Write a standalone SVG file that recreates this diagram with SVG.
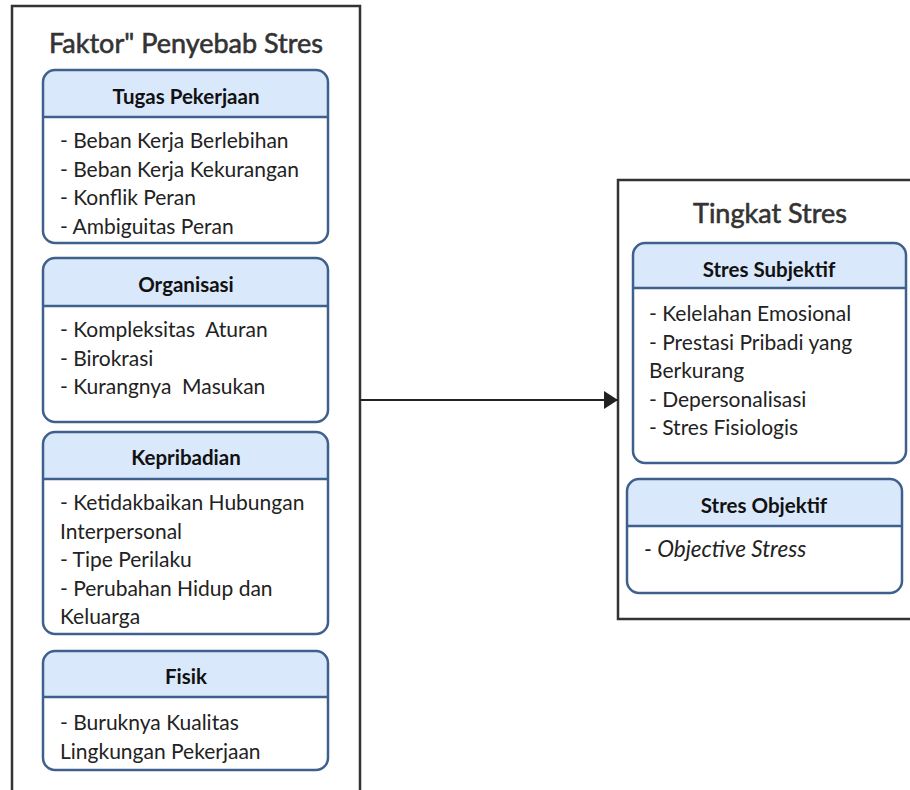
<svg xmlns="http://www.w3.org/2000/svg" width="910" height="790" viewBox="0 0 910 790">
<defs>
<style>
.cont{fill:#fff;stroke:#333;stroke-width:2.5}
.box{fill:none;stroke:#3f608c;stroke-width:2.5}
.hdr{fill:#dae8fc}
.div{stroke:#3f608c;stroke-width:2.5}
.title{font-family:Lato,"Liberation Sans",sans-serif;font-size:27px;fill:#333;stroke:#333;stroke-width:0.6;text-anchor:middle}
.h{font-family:Lato,"Liberation Sans",sans-serif;font-size:20.5px;font-weight:bold;fill:#111;text-anchor:middle}
.t{font-family:Lato,"Liberation Sans",sans-serif;font-size:21px;fill:#222;white-space:pre}
.i{font-style:italic;font-size:22.5px}
.conn{stroke:#222;stroke-width:2;fill:none}
</style>
<marker id="arr" markerWidth="14" markerHeight="18" refX="14" refY="9" orient="auto" markerUnits="userSpaceOnUse" viewBox="0 0 14 18">
<path d="M0,0 L14,9 L0,18 Z" fill="#222"/>
</marker>
</defs>
<rect width="910" height="790" fill="#fff"/>

<g id="faktor">
<rect class="cont" x="12" y="6" width="348" height="800"/>
<text class="title" x="186" y="53">Faktor" Penyebab Stres</text>
</g>

<g id="tugas">
<path class="hdr" d="M43,117 V82 a12,12 0 0 1 12,-12 H316 a12,12 0 0 1 12,12 V117 Z"/>
<rect class="box" x="43" y="70" width="285" height="173" rx="12"/>
<line class="div" x1="43" y1="117" x2="328" y2="117"/>
<text class="h" x="186" y="104">Tugas  Pekerjaan</text>
<text class="t" x="60" y="148">- Beban Kerja Berlebihan</text>
<text class="t" x="60" y="177">- Beban Kerja Kekurangan</text>
<text class="t" x="60" y="205">- Konflik Peran</text>
<text class="t" x="60" y="234">- Ambiguitas Peran</text>
</g>

<g id="organisasi">
<path class="hdr" d="M43,306 V270 a12,12 0 0 1 12,-12 H316 a12,12 0 0 1 12,12 V306 Z"/>
<rect class="box" x="43" y="258" width="285" height="164" rx="12"/>
<line class="div" x1="43" y1="306" x2="328" y2="306"/>
<text class="h" x="186" y="292">Organisasi</text>
<text class="t" x="60" y="337">- Kompleksitas  Aturan</text>
<text class="t" x="60" y="366">- Birokrasi</text>
<text class="t" x="60" y="394">- Kurangnya  Masukan</text>
</g>

<g id="kepribadian">
<path class="hdr" d="M43,479 V444 a12,12 0 0 1 12,-12 H316 a12,12 0 0 1 12,12 V479 Z"/>
<rect class="box" x="43" y="432" width="285" height="202" rx="12"/>
<line class="div" x1="43" y1="479" x2="328" y2="479"/>
<text class="h" x="186" y="465">Kepribadian</text>
<text class="t" x="60" y="510">- Ketidakbaikan Hubungan</text>
<text class="t" x="60" y="539">Interpersonal</text>
<text class="t" x="60" y="567">- Tipe Perilaku</text>
<text class="t" x="60" y="596">- Perubahan Hidup dan</text>
<text class="t" x="60" y="624">Keluarga</text>
</g>

<g id="fisik">
<path class="hdr" d="M43,697 V663 a12,12 0 0 1 12,-12 H316 a12,12 0 0 1 12,12 V697 Z"/>
<rect class="box" x="43" y="651" width="285" height="119" rx="12"/>
<line class="div" x1="43" y1="697" x2="328" y2="697"/>
<text class="h" x="186" y="684">Fisik</text>
<text class="t" x="60" y="730">- Buruknya Kualitas</text>
<text class="t" x="60" y="759">Lingkungan Pekerjaan</text>
</g>

<g id="tingkat">
<rect class="cont" x="618" y="180" width="310" height="439"/>
<text class="title" x="770" y="223">Tingkat Stres</text>
</g>

<g id="subjektif">
<path class="hdr" d="M633,288 V255 a12,12 0 0 1 12,-12 H894 a12,12 0 0 1 12,12 V288 Z"/>
<rect class="box" x="633" y="243" width="273" height="220" rx="12"/>
<line class="div" x1="633" y1="288" x2="906" y2="288"/>
<text class="h" x="769" y="277">Stres Subjektif</text>
<text class="t" x="649" y="321">- Kelelahan Emosional</text>
<text class="t" x="649" y="350">- Prestasi Pribadi yang</text>
<text class="t" x="649" y="378">Berkurang</text>
<text class="t" x="649" y="407">- Depersonalisasi</text>
<text class="t" x="649" y="435">- Stres Fisiologis</text>
</g>

<g id="objektif">
<path class="hdr" d="M627,526 V491 a12,12 0 0 1 12,-12 H890 a12,12 0 0 1 12,12 V526 Z"/>
<rect class="box" x="627" y="479" width="275" height="114" rx="12"/>
<line class="div" x1="627" y1="526" x2="902" y2="526"/>
<text class="h" x="764" y="513">Stres Objektif</text>
<text class="t i" x="644" y="557">- Objective Stress</text>
</g>

<g id="connectors">
<line class="conn" x1="360" y1="400" x2="618" y2="400" marker-end="url(#arr)"/>
</g>
</svg>
